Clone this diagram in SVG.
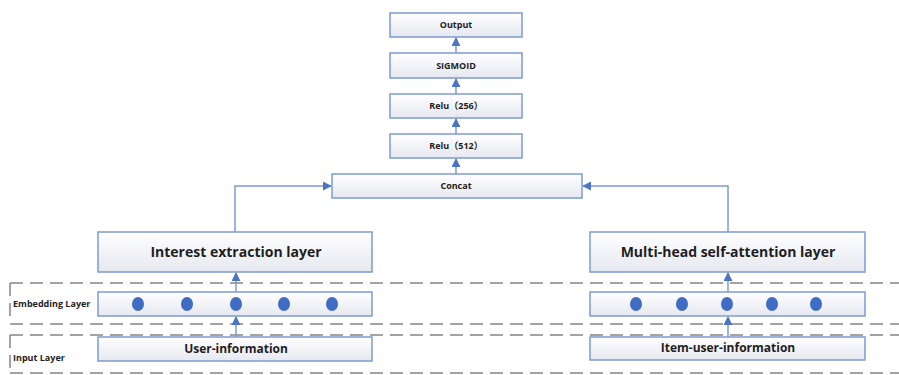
<svg xmlns="http://www.w3.org/2000/svg" width="899" height="375" viewBox="0 0 899 375">
  <defs>
    <linearGradient id="boxFill" x1="0" y1="0" x2="0" y2="1">
      <stop offset="0" stop-color="#ffffff"/>
      <stop offset="1" stop-color="#e6e8f0"/>
    </linearGradient>
    <marker id="arrow" viewBox="0 0 10 10" refX="9" refY="5" markerWidth="9" markerHeight="9" markerUnits="userSpaceOnUse" orient="auto">
      <path d="M0,0 L10,5 L0,10 Z" fill="#4a74c4"/>
    </marker>
  </defs>
  <style>
    .box { fill: url(#boxFill); stroke: #7d9bd2; stroke-width: 1.5; }
    .lbl { font-family: "Open Sans", "Noto Sans", "Noto Sans CJK SC", sans-serif; font-weight: bold; fill: #1e1e1e; text-anchor: middle; }
    .sm { font-size: 9px; }
    .md { font-size: 12px; }
    .lg { font-size: 14px; }
    .side { font-family: "Open Sans", "Noto Sans", sans-serif; font-weight: bold; font-size: 9px; fill: #1e1e1e; }
    .dash { stroke: #858585; stroke-width: 1.5; stroke-dasharray: 13 7; fill: none; }
    .conn { stroke: #7d9bd2; stroke-width: 1.5; fill: none; marker-end: url(#arrow); }
    .dot { fill: #3f6cc4; }
  </style>

  <rect width="899" height="375" fill="#ffffff"/>

  <!-- layer separators -->
  <g id="separators">
    <line class="dash" x1="10" y1="283" x2="899" y2="283"/>
    <line class="dash" x1="10" y1="324" x2="899" y2="324"/>
    <line class="dash" x1="10" y1="335" x2="899" y2="335"/>
    <line class="dash" x1="10" y1="373" x2="899" y2="373"/>
    <line class="dash" x1="10" y1="283" x2="10" y2="320" stroke-dasharray="16 6"/>
    <line class="dash" x1="10" y1="335" x2="10" y2="370" stroke-dasharray="16 6"/>
    <text class="side" x="13" y="307">Embedding Layer</text>
    <text class="side" x="13" y="361">Input Layer</text>
  </g>

  <!-- connectors -->
  <g id="connectors">
    <line class="conn" x1="456" y1="53" x2="456" y2="38"/>
    <line class="conn" x1="456" y1="94" x2="456" y2="79"/>
    <line class="conn" x1="456" y1="134" x2="456" y2="119"/>
    <line class="conn" x1="456" y1="174" x2="456" y2="159"/>
    <polyline class="conn" points="235,232 235,186 331,186"/>
    <polyline class="conn" points="728,232 728,186 583,186"/>
    <line class="conn" x1="236" y1="292" x2="236" y2="273"/>
    <line class="conn" x1="236" y1="337" x2="236" y2="317"/>
    <line class="conn" x1="728" y1="292" x2="728" y2="273"/>
    <line class="conn" x1="728" y1="337" x2="728" y2="317"/>
  </g>

  <g id="output">
    <rect class="box" x="390" y="13" width="132" height="24"/>
    <text class="lbl sm" x="456" y="28">Output</text>
  </g>
  <g id="sigmoid">
    <rect class="box" x="390" y="53" width="132" height="25"/>
    <text class="lbl sm" x="456" y="69">SIGMOID</text>
  </g>
  <g id="relu256">
    <rect class="box" x="390" y="94" width="132" height="24"/>
    <text class="lbl sm" x="456" y="109">Relu（256）</text>
  </g>
  <g id="relu512">
    <rect class="box" x="390" y="134" width="132" height="24"/>
    <text class="lbl sm" x="456" y="149">Relu（512）</text>
  </g>
  <g id="concat">
    <rect class="box" x="332" y="174" width="250" height="24"/>
    <text class="lbl sm" x="456" y="189">Concat</text>
  </g>

  <g id="interest">
    <rect class="box" x="98" y="232" width="274" height="40"/>
    <text class="lbl lg" x="236" y="257">Interest extraction layer</text>
  </g>
  <g id="attention">
    <rect class="box" x="590" y="232" width="275" height="40"/>
    <text class="lbl lg" x="728" y="257">Multi-head self-attention layer</text>
  </g>

  <g id="embedding-user">
    <rect class="box" x="98" y="292" width="274" height="24"/>
    <ellipse class="dot" cx="138" cy="304" rx="6" ry="7"/>
    <ellipse class="dot" cx="187" cy="304" rx="6" ry="7"/>
    <ellipse class="dot" cx="236" cy="304" rx="6" ry="7"/>
    <ellipse class="dot" cx="284" cy="304" rx="6" ry="7"/>
    <ellipse class="dot" cx="332" cy="304" rx="6" ry="7"/>
  </g>
  <g id="embedding-item">
    <rect class="box" x="590" y="292" width="275" height="24"/>
    <ellipse class="dot" cx="636" cy="304" rx="6" ry="7"/>
    <ellipse class="dot" cx="682" cy="304" rx="6" ry="7"/>
    <ellipse class="dot" cx="727" cy="304" rx="6" ry="7"/>
    <ellipse class="dot" cx="772" cy="304" rx="6" ry="7"/>
    <ellipse class="dot" cx="816" cy="304" rx="6" ry="7"/>
  </g>

  <g id="user-info">
    <rect class="box" x="98" y="337" width="274" height="24"/>
    <text class="lbl md" x="236" y="353">User-information</text>
  </g>
  <g id="item-user-info">
    <rect class="box" x="590" y="337" width="275" height="23"/>
    <text class="lbl md" x="728" y="352">Item-user-information</text>
  </g>
</svg>
